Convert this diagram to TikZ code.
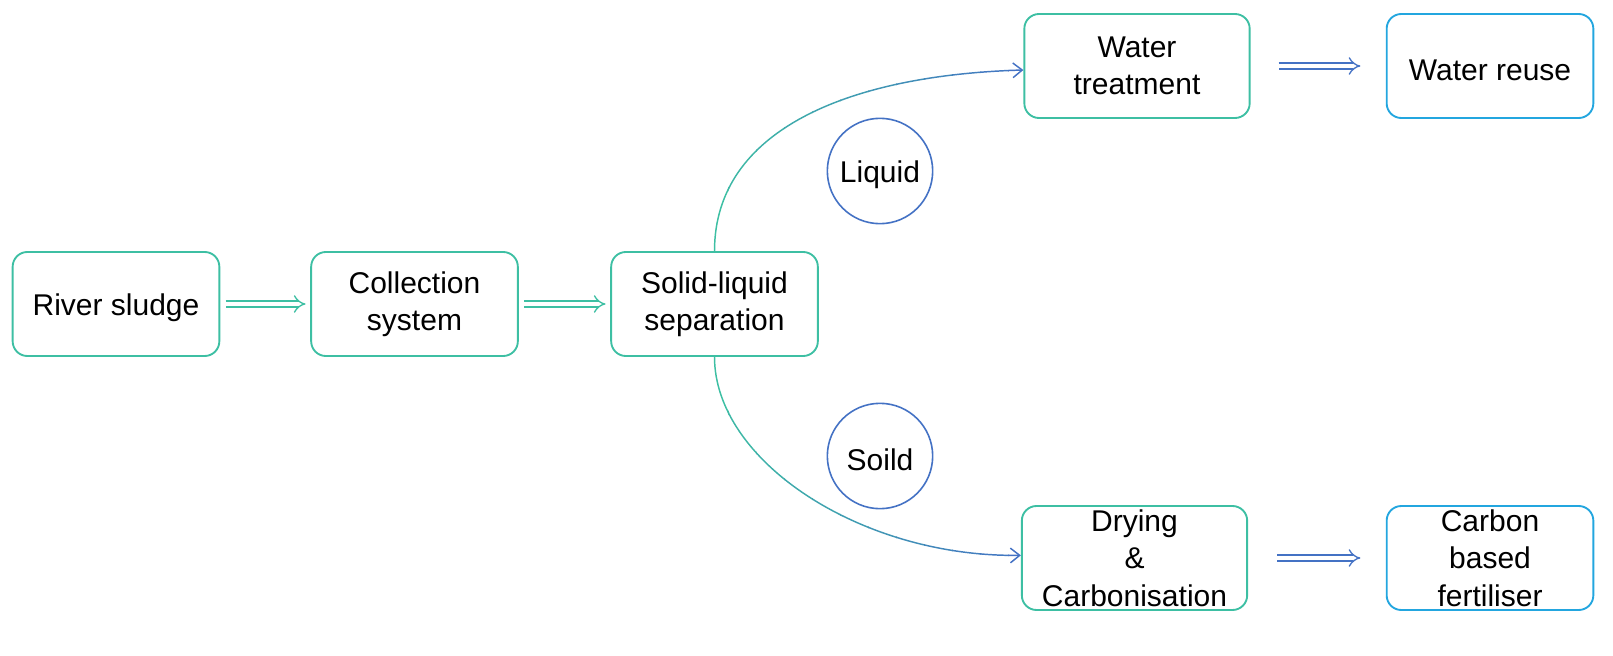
\documentclass[tikz,border=0pt]{standalone}
\usepackage{fontspec}
\setmainfont{Liberation Sans}
\usetikzlibrary{arrows.meta}
\definecolor{tealc}{HTML}{3DBFA3}
\definecolor{bluec}{HTML}{4472C4}
\definecolor{skyc}{HTML}{23A6DF}
\begin{document}
\begin{tikzpicture}[x=0.75pt,y=-0.75pt,
  box/.style={draw=tealc, line width=1.4pt, rounded corners=11pt, minimum width=155pt, minimum height=78pt, align=center, inner sep=0pt, font=\fontsize{22.5}{28}\selectfont, execute at begin node={\rule{0pt}{21.5pt}}},
  widebox/.style={box, minimum width=169pt},
  skybox/.style={box, draw=skyc},
  circ/.style={draw=bluec, circle, line width=1.2pt, minimum size=79pt, inner sep=0pt, font=\fontsize{22.5}{28}\selectfont, execute at begin node={\rule{0pt}{21.5pt}}},
  dbl/.style={double=white, double distance=3.6pt, line width=1pt, -{Implies}},
  curvearrow/.style={line width=1.1pt, -{Straight Barb[length=7pt,width=11pt]}}
]
\useasboundingbox (0,0) rectangle (1613,656);
\node[box] (river) at (116,304) {River sludge};
\node[box] (coll) at (414.5,304) {Collection\\system};
\node[box] (sl) at (714.5,304) {Solid-liquid\\separation};
\node[widebox] (wt) at (1137,66) {Water\\treatment};
\node[skybox] (wr) at (1490,66) {Water reuse};
\node[widebox] (dc) at (1134.5,558) {Drying\\ \&\\Carbonisation};
\node[skybox] (cf) at (1490,558) {Carbon\\based\\fertiliser};
\node[circ] (liq) at (880,171) {Liquid};
\node[circ] (sol) at (880,456) {Soild};

\draw[dbl, draw=tealc, shorten <=4pt, shorten >=3.5pt] (river) -- (coll);
\draw[dbl, draw=tealc, shorten <=4pt, shorten >=3.5pt] (coll) -- (sl);
\draw[dbl, draw=bluec, shorten <=21pt, shorten >=19pt] (wt) -- (wr);
\draw[dbl, draw=bluec, shorten <=22pt, shorten >=19pt] (dc) -- (cf);

\foreach \i in {0,...,11}{
  \pgfmathtruncatemacro\p{100-\i*100/11}
  \begin{scope}
    \clip (700+\i*28,-10) rectangle (700+\i*28+29,700);
    \draw[curvearrow, draw=tealc!\p!bluec] (sl.north) .. controls +(0,-122) and +(-173,5) .. ([yshift=-3pt]wt.west);
    \draw[curvearrow, draw=tealc!\p!bluec] (sl.south) .. controls +(0,104) and +(-160,2) .. ([yshift=2pt]dc.west);
  \end{scope}
}
\end{tikzpicture}
\end{document}
